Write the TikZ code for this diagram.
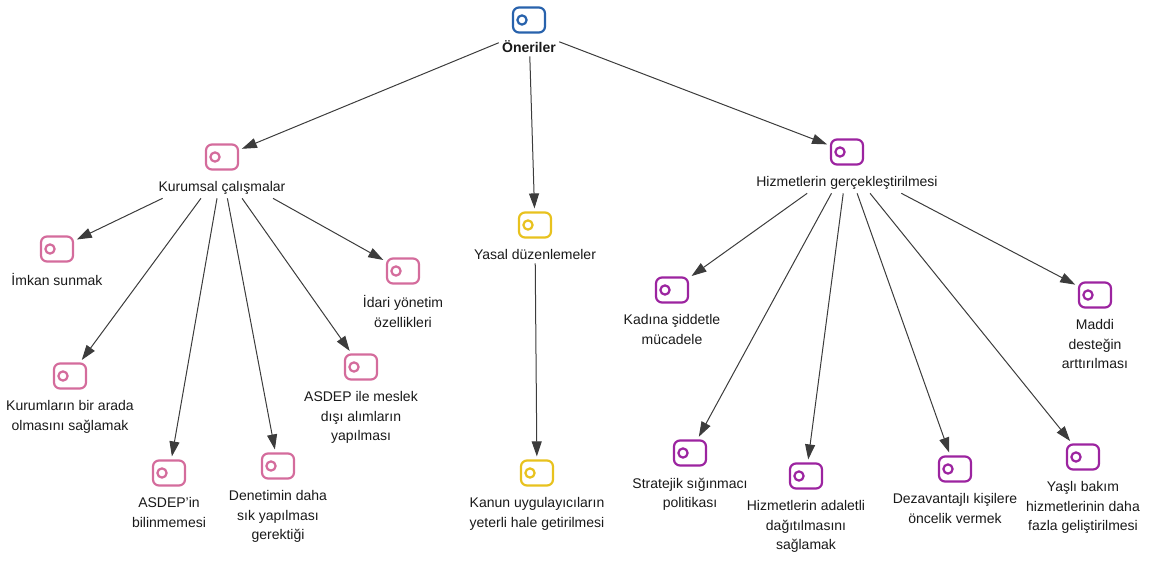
\documentclass[tikz,border=0pt]{standalone}
\usepackage{fontspec}
\setmainfont{Liberation Sans}
\usetikzlibrary{positioning,fit,arrows.meta}
\definecolor{mavi}{RGB}{40,98,172}
\definecolor{pembe}{RGB}{212,108,156}
\definecolor{sari}{RGB}{232,194,30}
\definecolor{mor}{RGB}{156,36,160}
\definecolor{ok}{RGB}{60,60,60}

\begin{document}
\begin{tikzpicture}[x=1pt,y=-1pt,
    ikon/.style={draw=#1,line width=2.2pt,rounded corners=6pt,minimum width=32pt,minimum height=25pt,inner sep=0pt,
      path picture={\draw[#1,line width=2.2pt]([xshift=9pt]path picture bounding box.west) circle (4.6pt);}},
    lbl/.style={align=center,inner sep=1pt,font=\fontsize{14}{19.5}\selectfont,text=black!90},
    kutu/.style={inner sep=2pt},
    arr/.style={draw=ok,line width=1pt,-{Triangle[length=15pt,width=10pt]},shorten >=3pt}]
                \useasboundingbox (0,0) rectangle (1156,561);
                \node[ikon=mavi](one-i) at (529,20){};
                \node[lbl,font=\fontsize{14}{19.5}\selectfont\bfseries](one)[below=6pt of one-i]{Öneriler};
                \node[ikon=pembe](kur-i) at (222,157){};
                \node[lbl](kur)[below=10pt of kur-i]{Kurumsal çalışmalar};
                \node[ikon=sari](yas-i) at (535,225){};
                \node[lbl](yas)[below=10pt of yas-i]{Yasal düzenlemeler};
                \node[ikon=mor](hiz-i) at (847,152){};
                \node[lbl](hiz)[below=10pt of hiz-i]{Hizmetlerin gerçekleştirilmesi};
                \node[ikon=pembe](imk-i) at (57,249){};
                \node[lbl](imk)[below=10pt of imk-i]{İmkan sunmak};
                \node[ikon=pembe](bir-i) at (70,376){};
                \node[lbl](bir)[below=10pt of bir-i]{Kurumların bir arada\\olmasını sağlamak};
                \node[ikon=pembe](asb-i) at (169,473){};
                \node[lbl](asb)[below=10pt of asb-i]{ASDEP'in\\bilinmemesi};
                \node[ikon=pembe](den-i) at (278,466){};
                \node[lbl](den)[below=10pt of den-i]{Denetimin daha\\sık yapılması\\gerektiği};
                \node[ikon=pembe](asm-i) at (361,367){};
                \node[lbl](asm)[below=10pt of asm-i]{ASDEP ile meslek\\dışı alımların\\yapılması};
                \node[ikon=pembe](ida-i) at (403,271){};
                \node[lbl](ida)[below=10pt of ida-i]{İdari yönetim\\özellikleri};
                \node[ikon=sari](kan-i) at (537,473){};
                \node[lbl](kan)[below=10pt of kan-i]{Kanun uygulayıcıların\\yeterli hale getirilmesi};
                \node[ikon=mor](kad-i) at (672,290){};
                \node[lbl](kad)[below=10pt of kad-i]{Kadına şiddetle\\mücadele};
                \node[ikon=mor](str-i) at (690,453){};
                \node[lbl](str)[below=10pt of str-i]{Stratejik sığınmacı\\politikası};
                \node[ikon=mor](ada-i) at (806,476){};
                \node[lbl](ada)[below=10pt of ada-i]{Hizmetlerin adaletli\\dağıtılmasını\\sağlamak};
                \node[ikon=mor](dez-i) at (955,469){};
                \node[lbl](dez)[below=10pt of dez-i]{Dezavantajlı kişilere\\öncelik vermek};
                \node[ikon=mor](yasl-i) at (1083,457){};
                \node[lbl](yasl)[below=10pt of yasl-i]{Yaşlı bakım\\hizmetlerinin daha\\fazla geliştirilmesi};
                \node[ikon=mor](mad-i) at (1095,295){};
                \node[lbl](mad)[below=10pt of mad-i]{Maddi\\desteğin\\arttırılması};
                \foreach \n in {one,kur,yas,hiz}
                  \node[kutu,fit=(\n-i)(\n)](\n-f){};
                \draw[arr](one-f)--(kur-i);
                \draw[arr](one-f)--(yas-i);
                \draw[arr](one-f)--(hiz-i);
                \foreach \c in {imk,bir,asb,den,asm,ida}
                  \draw[arr](kur-f)--(\c-i);
                \draw[arr](yas-f)--(kan-i);
                \foreach \c in {kad,str,ada,dez,yasl,mad}
                  \draw[arr](hiz-f)--(\c-i);
            \end{tikzpicture}
\end{document}
